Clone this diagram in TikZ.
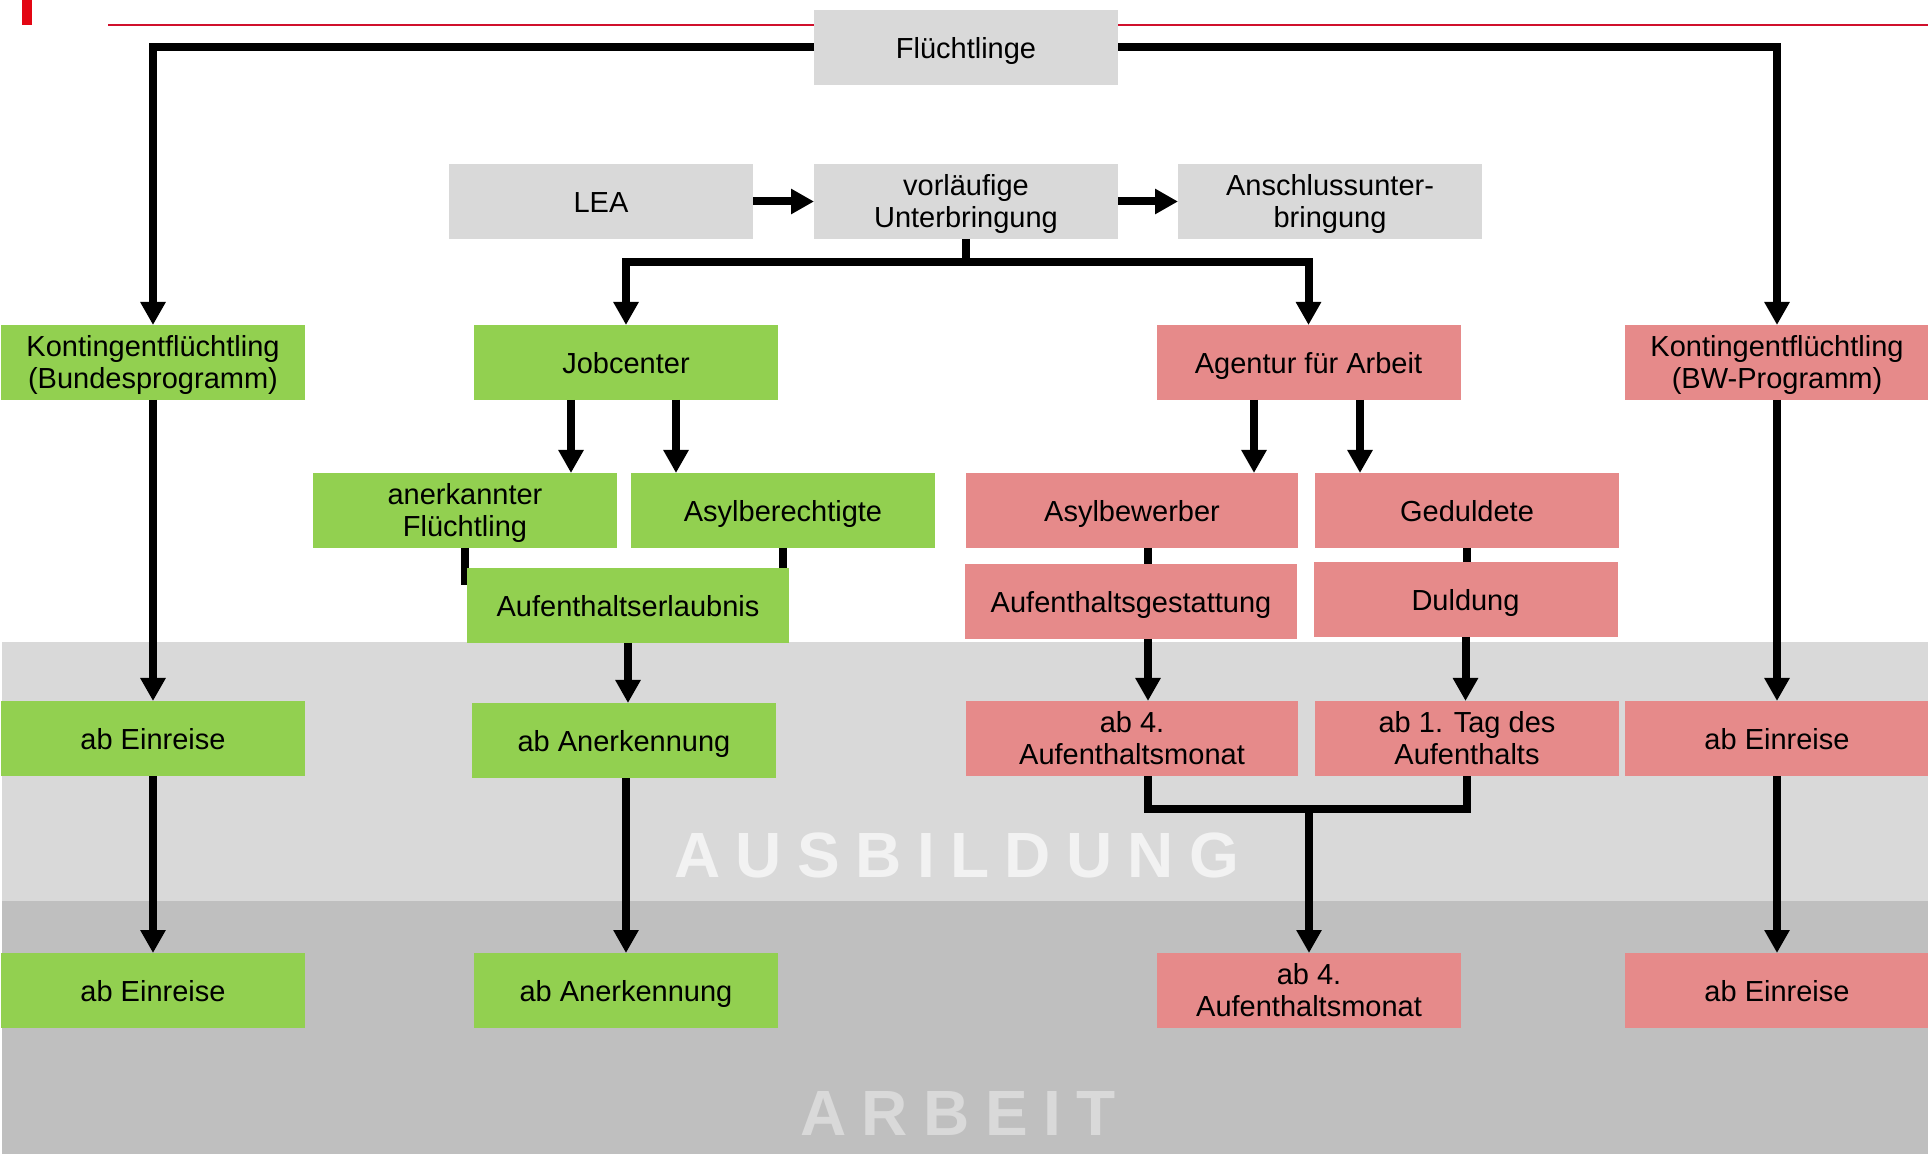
\documentclass[tikz,border=0pt]{standalone}
\usepackage{fontspec}
\setmainfont{Liberation Sans}
\usetikzlibrary{arrows.meta}
\definecolor{grn}{HTML}{92D050}
\definecolor{pnk}{HTML}{E68A8A}
\definecolor{lgr}{HTML}{D9D9D9}
\definecolor{mgr}{HTML}{BFBFBF}
\definecolor{wtx}{HTML}{F2F2F2}
\definecolor{rline}{HTML}{D0102C}
\definecolor{rmark}{HTML}{E30613}
\newcommand{\st}{\rule[-3pt]{0pt}{16.7pt}}
\newcommand{\stt}{\rule{0pt}{13pt}}
\newcommand{\stb}{\rule[-3pt]{0pt}{10pt}}
\begin{document}
\begin{tikzpicture}[x=0.5pt,y=-0.5pt,
  box/.style={minimum width=152pt, minimum height=37.5pt, inner sep=0pt, outer sep=0pt,
    align=center, font=\fontsize{14.5}{16}\selectfont, execute at begin node=\st},
  gbox/.style={box, fill=lgr},
  gnode/.style={box, fill=grn},
  pnode/.style={box, fill=pnk},
  conn/.style={line width=4pt, draw=black},
  arr/.style={conn, -{Triangle[width=12pt,length=11.5pt]}},
  bigtxt/.style={anchor=base west, inner sep=0pt, font=\fontsize{32}{32}\selectfont\bfseries\addfontfeature{LetterSpace=24}}
]
\useasboundingbox (0,0) rectangle (1928,1154);
% bands
\fill[lgr] (2,642) rectangle (1928,901);
\fill[mgr] (2,901) rectangle (1928,1154);
\node[bigtxt, text=wtx] (ausb) at (674,877) {AUSBILDUNG};
\node[bigtxt, text=lgr] (arb) at (800,1135) {ARBEIT};
% red header
\fill[rmark] (22,0) rectangle (32,25);
\draw[rline, line width=1.25pt] (108,25) -- (1928,25);

% top nodes
\node[gbox] (fl) at (966,47.5) {Flüchtlinge};
\node[gbox] (lea) at (601,201.5) {LEA};
\node[gbox] (vu) at (966,201.5) {\stt vorläufige\\\stb Unterbringung};
\node[gbox] (au) at (1330,201.5) {\stt Anschlussunter-\\\stb bringung};

% row 2
\node[gnode] (kb) at (153,362.5) {\stt Kontingentflüchtling\\\stb (Bundesprogramm)};
\node[gnode] (jc) at (626,362.5) {Jobcenter};
\node[pnode] (aa) at (1308.5,362.5) {Agentur für Arbeit};
\node[pnode] (kbw) at (1777,362.5) {\stt Kontingentflüchtling\\\stb (BW-Programm)};

% row 3
\node[gnode] (af) at (465,510.5) {\stt anerkannter\\\stb Flüchtling};
\node[gnode] (ab) at (783,510.5) {Asylberechtigte};
\node[pnode, minimum width=166pt] (abw) at (1132,510.5) {Asylbewerber};
\node[pnode] (gd) at (1467,510.5) {Geduldete};

\draw[conn] (af.south) -- ++(0,37);
\node[gnode, minimum width=161pt] (ae) at (628,605.5) {Aufenthaltserlaubnis};
\node[pnode, minimum width=166pt] (agst) at (1131,601.5) {Aufenthaltsgestattung};
\node[pnode] (dl) at (1465.5,599.5) {Duldung};

% row ab 1
\node[gnode] (e1l) at (153,738.5) {ab Einreise};
\node[gnode] (an1) at (624,740.5) {ab Anerkennung};
\node[pnode, minimum width=166pt] (m4a) at (1132,738.5) {\stt ab 4.\\\stb Aufenthaltsmonat};
\node[pnode] (t1) at (1467,738.5) {\stt ab 1. Tag des\\\stb Aufenthalts};
\node[pnode] (e1r) at (1777,738.5) {ab Einreise};

% row ab 2
\node[gnode] (e2l) at (153,990.5) {ab Einreise};
\node[gnode] (an2) at (626,990.5) {ab Anerkennung};
\node[pnode] (m4b) at (1309,990.5) {\stt ab 4.\\\stb Aufenthaltsmonat};
\node[pnode] (e2r) at (1777,990.5) {ab Einreise};

% connectors
\draw[arr] (fl.west) -| (kb.north);
\draw[arr] (fl.east) -| (kbw.north);
\draw[arr] (lea.east) -- (vu.west);
\draw[arr] (vu.east) -- (au.west);
\coordinate (br) at (966,262);
\draw[conn] (vu.south) -- (br);
\draw[arr] (br) -| (jc.north);
\draw[arr] (br) -| (aa.north);

\coordinate (j1) at (571,400);
\coordinate (j2) at (676,400);
\draw[arr] (j1) -- (j1 |- af.north);
\draw[arr] (j2) -- (j2 |- ab.north);
\coordinate (a1) at (1254,400);
\coordinate (a2) at (1360,400);
\draw[arr] (a1) -- (a1 |- abw.north);
\draw[arr] (a2) -- (a2 |- gd.north);

\draw[conn] (ab.south) -- (ab.south |- ae.north);
\draw[arr] (ae.south) -- (ae.south |- an1.north);
\draw[arr] (an2.north |- an1.south) -- (an2.north);

\coordinate (b1) at (1148,548);
\draw[conn] (b1) -- (b1 |- agst.north);
\draw[arr] (b1 |- agst.south) -- (b1 |- m4a.north);
\draw[conn] (gd.south) -- (gd.south |- dl.north);
\draw[arr] (dl.south) -- (dl.south |- t1.north);

\coordinate (mg) at (1309,809);
\draw[conn] (b1 |- m4a.south) |- (t1.south |- mg) -- (t1.south);
\draw[arr] (mg) -- (m4b.north);

\draw[arr] (kb.south) -- (e1l.north);
\draw[arr] (e1l.south) -- (e2l.north);
\draw[arr] (kbw.south) -- (e1r.north);
\draw[arr] (e1r.south) -- (e2r.north);
\end{tikzpicture}
\end{document}
